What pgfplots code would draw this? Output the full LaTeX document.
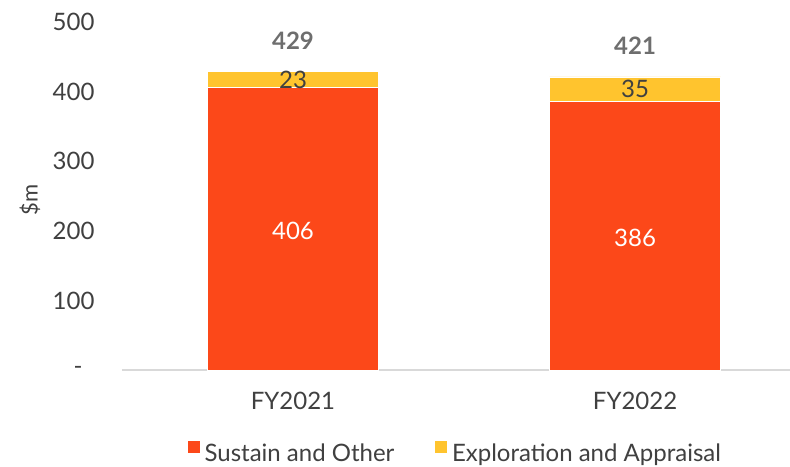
\documentclass[border=0pt]{standalone}
\usepackage{pgfplots}
\pgfplotsset{compat=1.18}
\usepackage{fontspec}
\setmainfont{Lato}
\definecolor{sustain}{HTML}{FC4819}
\definecolor{explor}{HTML}{FFC42E}
\definecolor{txt}{HTML}{404040}
\definecolor{tot}{HTML}{6E6E6E}
\definecolor{axisgray}{HTML}{D9D9D9}
\newcommand{\lblfont}{\fontsize{24}{28}\selectfont}
\begin{document}
\begin{tikzpicture}
\useasboundingbox (-122pt,-96pt) rectangle (668pt,370pt);
\begin{axis}[
  scale only axis, width=668pt, height=348pt,
  at={(0pt,0pt)}, anchor=south west,
  ybar stacked, bar width=0.5,
  xmin=-0.5, xmax=1.453, ymin=0, ymax=500,
  xtick={0,1}, xticklabels={FY2021,FY2022},
  ytick={0,100,200,300,400,500}, yticklabels={-\kern12pt,100,200,300,400,500},
  axis lines*=left,
  axis line style={-},
  y axis line style={draw=none},
  x axis line style={draw=axisgray, line width=1.2pt},
  major tick length=0pt,
  tick label style={font=\lblfont, text=txt},
  xticklabel style={yshift=-19pt},
  yticklabel style={xshift=-24pt},
  ylabel={\$m},
  ylabel style={at={(axis description cs:-0.138,0.489)}, anchor=center, font=\fontsize{22}{24}\selectfont, text=txt},
  legend style={at={(0.4985,-0.236)}, anchor=center, draw=none, legend columns=2,
    font=\lblfont, text=txt,
    /tikz/every even column/.append style={column sep=38pt},
    /tikz/every odd column/.append style={column sep=2pt}},
  legend image code/.code={\fill[#1] (0pt,0pt) rectangle (13pt,13pt);},
  clip=false,
]
\addplot[fill=sustain, draw=white, line width=0.6pt] coordinates {(0,406) (1,386)};
\addplot[fill=explor, draw=white, line width=0.6pt] coordinates {(0,23) (1,35)};
\legend{Sustain and Other, Exploration and Appraisal}
\coordinate (s1) at (axis cs:0,203);
\coordinate (s2) at (axis cs:1,193);
\coordinate (e1) at (axis cs:0,417.5);
\coordinate (e2) at (axis cs:1,403.5);
\coordinate (t1) at (axis cs:0,429);
\coordinate (t2) at (axis cs:1,421);
\end{axis}
\node[font=\lblfont, text=white, yshift=-2pt] at (s1) {406};
\node[font=\lblfont, text=white, yshift=-2pt] at (s2) {386};
\node[font=\lblfont, text=txt] at (e1) {23};
\node[font=\lblfont, text=txt] at (e2) {35};
\node[font=\lblfont\bfseries, text=tot, yshift=31pt] at (t1) {429};
\node[font=\lblfont\bfseries, text=tot, yshift=31pt] at (t2) {421};
\end{tikzpicture}
\end{document}
